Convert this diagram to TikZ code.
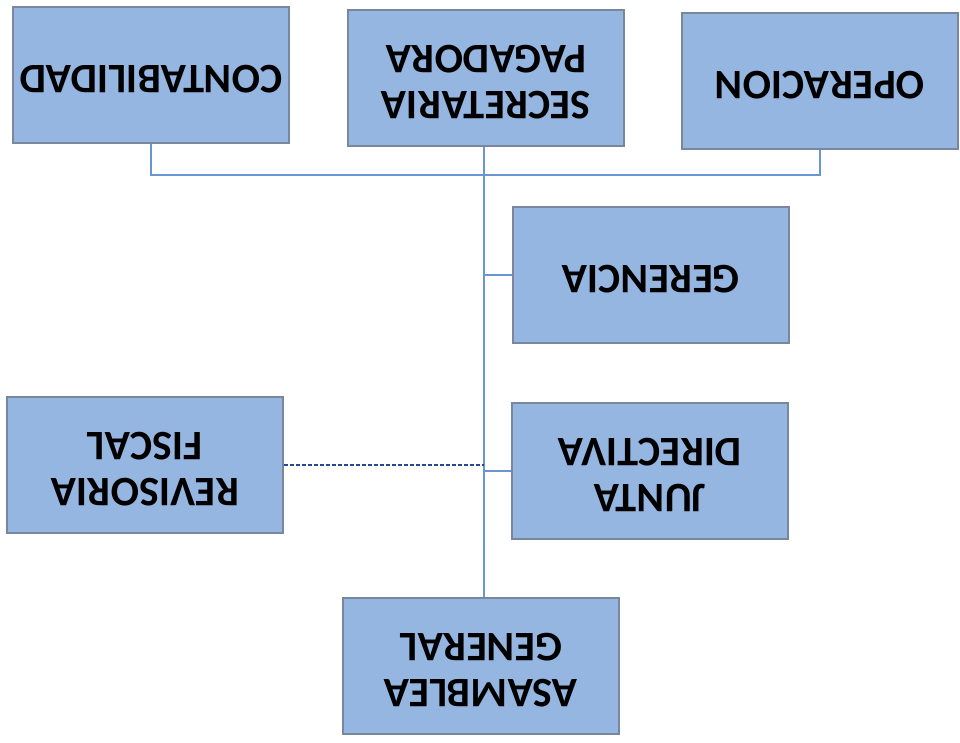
\documentclass[tikz,border=0pt]{standalone}
\usepackage{fontspec}
\setmainfont{Carlito}
\usepackage{graphicx}
\usepackage{tikz}
\usetikzlibrary{positioning, calc}

\definecolor{boxblue}{RGB}{150,182,226}
\definecolor{boxedge}{RGB}{120,135,155}
\definecolor{linkblue}{RGB}{105,150,210}
\definecolor{dashblue}{RGB}{40,70,150}

\newcommand{\flip}[1]{\rotatebox{180}{\begin{tabular}{@{}c@{}}#1\end{tabular}}}

\tikzset{
  unit/.style={draw=boxedge, line width=1.2pt, fill=boxblue,
               minimum width=276pt, minimum height=136pt, inner sep=0pt,
               font=\fontsize{42}{46}\selectfont\bfseries},
  link/.style={draw=linkblue, line width=1.6pt},
  advisory/.style={draw=dashblue, line width=1.8pt, dash pattern=on 4pt off 2pt}
}

\begin{document}
\begin{tikzpicture}[x=1pt, y=-1pt]
  \useasboundingbox (0,0) rectangle (960,742);

  \node[unit] (contab) at (151,75)  {\flip{CONTABILIDAD}};
  \node[unit] (secret) at (486,78)  {\flip{SECRETARIA\\PAGADORA}};
  \node[unit] (operac) at (820,81)  {\flip{OPERACION}};
  \node[unit] (geren)  at (651,275) {\flip{GERENCIA}};
  \node[unit] (junta)  at (650,471) {\flip{JUNTA\\DIRECTIVA}};
  \node[unit] (revis)  at (145,465) {\flip{REVISORIA\\FISCAL}};
  \node[unit] (asamb)  at (481,666) {\flip{ASAMBLEA\\GENERAL}};

  \coordinate (bar) at (0,175);
  \coordinate (trunk) at (484,0);

  \draw[link] (contab.south) -- (contab.south |- bar) -- (operac.south |- bar) -- (operac.south);
  \draw[link] (trunk |- secret.south) -- (trunk |- asamb.north);
  \draw[link] (geren.west) -- (geren.west -| trunk);
  \draw[link] (junta.west) -- (junta.west -| trunk);
  \draw[advisory] (revis.east) -- (revis.east -| trunk);
\end{tikzpicture}
\end{document}
